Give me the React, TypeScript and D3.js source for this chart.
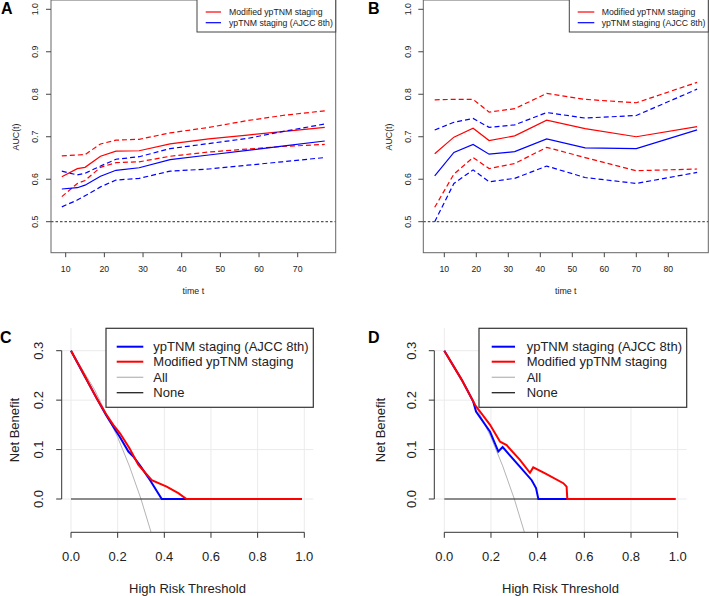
import React from 'react';
import * as d3 from 'd3';

const FONT = '"Liberation Sans", Arial, Helvetica, sans-serif';

// ---- panel A: time-dependent AUC
const timesA = [9, 13, 15, 19, 23, 29, 37, 47, 57, 66, 77];
const modA = [0.606, 0.625, 0.628, 0.654, 0.666, 0.667, 0.683, 0.695, 0.704, 0.712, 0.722];
const modUpA = [0.655, 0.657, 0.658, 0.683, 0.692, 0.694, 0.709, 0.722, 0.738, 0.75, 0.761];
const modLoA = [0.559, 0.59, 0.597, 0.628, 0.639, 0.641, 0.654, 0.664, 0.671, 0.677, 0.682];
const ajccA = [0.577, 0.58, 0.586, 0.607, 0.621, 0.627, 0.646, 0.657, 0.668, 0.678, 0.69];
const ajccUpA = [0.619, 0.61, 0.614, 0.631, 0.647, 0.653, 0.672, 0.684, 0.696, 0.712, 0.73];
const ajccLoA = [0.535, 0.551, 0.561, 0.582, 0.598, 0.602, 0.619, 0.624, 0.633, 0.641, 0.651];
const xTicksA = [10, 20, 30, 40, 50, 60, 70];

// ---- panel B
const timesB = [7, 13, 19, 24, 32, 42, 54, 70, 89];
const modB = [0.66, 0.699, 0.72, 0.691, 0.702, 0.739, 0.719, 0.7, 0.724];
const modUpB = [0.787, 0.788, 0.788, 0.758, 0.766, 0.802, 0.788, 0.78, 0.828];
const modLoB = [0.534, 0.612, 0.651, 0.625, 0.637, 0.675, 0.651, 0.62, 0.624];
const ajccB = [0.608, 0.663, 0.682, 0.659, 0.665, 0.695, 0.674, 0.672, 0.716];
const ajccUpB = [0.716, 0.734, 0.743, 0.722, 0.728, 0.757, 0.744, 0.75, 0.812];
const ajccLoB = [0.5, 0.59, 0.622, 0.594, 0.602, 0.631, 0.604, 0.59, 0.616];
const xTicksB = [10, 20, 30, 40, 50, 60, 70, 80];

const aucTicks = [0.5, 0.6, 0.7, 0.8, 0.9, 1.0];

// ---- panel C: decision curves
const thrC_ajcc = [0, 0.05, 0.11, 0.15, 0.18, 0.21, 0.246, 0.267, 0.3, 0.339, 0.389, 0.99];
const nbC_ajcc = [0.3, 0.256, 0.204, 0.17, 0.147, 0.125, 0.096, 0.086, 0.065, 0.038, 0, 0];
const thrC_mod = [0, 0.05, 0.11, 0.15, 0.181, 0.21, 0.25, 0.289, 0.346, 0.41, 0.46, 0.495, 0.99];
const nbC_mod = [0.3, 0.257, 0.204, 0.172, 0.15, 0.133, 0.103, 0.069, 0.038, 0.025, 0.012, 0, 0];

// ---- panel D
const thrD_ajcc = [0, 0.075, 0.124, 0.136, 0.196, 0.2315, 0.25, 0.3245, 0.3745, 0.393, 0.403, 0.99];
const nbD_ajcc = [0.3, 0.241, 0.197, 0.177, 0.136, 0.096, 0.105, 0.065, 0.038, 0.022, 0, 0];
const thrD_mod = [0, 0.075, 0.132, 0.196, 0.239, 0.267, 0.324, 0.367, 0.381, 0.432, 0.51, 0.524, 0.527, 0.99];
const nbD_mod = [0.3, 0.241, 0.19, 0.15, 0.116, 0.109, 0.079, 0.053, 0.064, 0.052, 0.032, 0.025, 0, 0];

// reference curves (treat all / treat none), same in C and D
const thrAll = [0, 0.1, 0.2, 0.25, 0.3, 0.343];
const nbAll = [0.3, 0.222, 0.125, 0.067, 0, -0.067];
const thrNone = [0, 0.99];
const nbNone = [0, 0];

const dcaXTicks = [0, 0.2, 0.4, 0.6, 0.8, 1.0];
const dcaYTicks = [0, 0.1, 0.2, 0.3];

const aucLegend = ['Modified ypTNM staging', 'ypTNM staging (AJCC 8th)'];
const dcaLegend = ['ypTNM staging (AJCC 8th)', 'Modified ypTNM staging', 'All', 'None'];

const yAuc = d3.scaleLinear().domain([0.5, 1.0]).range([221.7, 9.3]);
const yDca = d3.scaleLinear().domain([0, 0.3]).range([499, 350.7]);

function path(xs: number[], ys: number[], sx: any, sy: any) {
  const line = d3.line<number>().x((d, i) => sx(xs[i])).y(d => sy(d));
  return line(ys) || '';
}

function AucPanel({ letter, letterX, times, series, xTicks, xScale, box, legend, tickLabelX, titleX }: any) {
  const [l, r] = box;
  const top = 0, bottom = 252.7;
  const mid = (l + r) / 2;
  const curves = [
    { v: series[0], c: '#ff0000', d: null },
    { v: series[1], c: '#ff0000', d: '5,3' },
    { v: series[2], c: '#ff0000', d: '5,3' },
    { v: series[3], c: '#0000ff', d: null },
    { v: series[4], c: '#0000ff', d: '5,3' },
    { v: series[5], c: '#0000ff', d: '5,3' },
  ];
  return (
    <g fontFamily={FONT}>
      <text x={letterX} y={14} fontSize={16} fontWeight="bold">{letter}</text>
      <line x1={l} x2={r} y1={yAuc(0.5)} y2={yAuc(0.5)} stroke="#555" strokeWidth={1.3} strokeDasharray="2.5,2" />
      {curves.map((cv, i) => (
        <path key={i} d={path(times, cv.v, xScale, yAuc)} fill="none" stroke={cv.c}
          strokeWidth={1.2} strokeDasharray={cv.d || undefined} />
      ))}
      <rect x={l} y={top} width={r - l} height={bottom - top} fill="none" stroke="#666" strokeWidth={1} />
      {xTicks.map((t: number) => (
        <g key={t}>
          <line x1={xScale(t)} x2={xScale(t)} y1={bottom} y2={bottom + 4.5} stroke="#444" />
          <text x={xScale(t)} y={271.7} fontSize={8.7} textAnchor="middle" fill="#222">{t}</text>
        </g>
      ))}
      {aucTicks.map(t => (
        <g key={t}>
          <line x1={l - 5} x2={l} y1={yAuc(t)} y2={yAuc(t)} stroke="#444" />
          <text transform={`translate(${tickLabelX},${yAuc(t)}) rotate(-90)`} dy="0.35em" fontSize={8.7}
            textAnchor="middle" fill="#222">{t.toFixed(1)}</text>
        </g>
      ))}
      <text transform={`translate(${titleX},137) rotate(-90)`} dy="0.35em" fontSize={8.8} textAnchor="middle" fill="#222">AUC(t)</text>
      <text x={mid} y={294} fontSize={8.8} textAnchor="middle" fill="#222">time t</text>
      <rect x={legend[0]} y={-1} width={r - legend[0]} height={33} fill="#fff" stroke="#444" strokeWidth={1} />
      {aucLegend.map((name, i) => (
        <g key={name}>
          <line x1={legend[1]} x2={legend[2]} y1={12 + i * 10.7} y2={12 + i * 10.7}
            stroke={i === 0 ? '#ff0000' : '#0000ff'} strokeWidth={1.2} />
          <text x={legend[3]} y={12 + i * 10.7} dy="0.35em" fontSize={8.7} fill="#222">{name}</text>
        </g>
      ))}
    </g>
  );
}

function DcaPanel({ letter, letterX, xScale, region, ajcc, mod, legend, tickLabelX, titleX }: any) {
  const [l, r] = region;
  const top = 328, bottom = 532.3;
  const mid = (l + r) / 2;
  const legColors = ['#0000ff', '#ff0000', '#bbbbbb', '#222222'];
  const legWidths = [2, 2, 1.3, 1.3];
  return (
    <g fontFamily={FONT}>
      <text x={letterX} y={343} fontSize={16} fontWeight="bold">{letter}</text>
      {dcaXTicks.map(t => (
        <line key={'gx' + t} x1={xScale(t)} x2={xScale(t)} y1={top} y2={bottom} stroke="#ebebeb" />
      ))}
      {dcaYTicks.map(t => (
        <line key={'gy' + t} x1={l} x2={r} y1={yDca(t)} y2={yDca(t)} stroke="#ebebeb" />
      ))}
      <path d={path(thrAll, nbAll, xScale, yDca)} fill="none" stroke="#b4b4b4" strokeWidth={1} />
      <path d={path(thrNone, nbNone, xScale, yDca)} fill="none" stroke="#222" strokeWidth={1.2} />
      <path d={path(ajcc[0], ajcc[1], xScale, yDca)} fill="none" stroke="#0000ff" strokeWidth={2} />
      <path d={path(mod[0], mod[1], xScale, yDca)} fill="none" stroke="#ff0000" strokeWidth={2} />
      <line x1={xScale(0)} x2={xScale(1)} y1={bottom} y2={bottom} stroke="#333" />
      {dcaXTicks.map(t => (
        <g key={'x' + t}>
          <line x1={xScale(t)} x2={xScale(t)} y1={bottom} y2={bottom + 5.5} stroke="#333" />
          <text x={xScale(t)} y={560.7} fontSize={13} textAnchor="middle" fill="#222">{t.toFixed(1)}</text>
        </g>
      ))}
      <line x1={l} x2={l} y1={yDca(0)} y2={yDca(0.3)} stroke="#333" />
      {dcaYTicks.map(t => (
        <g key={'y' + t}>
          <line x1={l - 5.5} x2={l} y1={yDca(t)} y2={yDca(t)} stroke="#333" />
          <text transform={`translate(${tickLabelX},${yDca(t)}) rotate(-90)`} dy="0.35em" fontSize={13}
            textAnchor="middle" fill="#222">{t.toFixed(1)}</text>
        </g>
      ))}
      <text transform={`translate(${titleX},430) rotate(-90)`} dy="0.35em" fontSize={13} textAnchor="middle" fill="#222">Net Benefit</text>
      <text x={mid} y={592.7} fontSize={13} textAnchor="middle" fill="#222">High Risk Threshold</text>
      <rect x={legend[0]} y={328.3} width={r - legend[0]} height={79} fill="#fff" stroke="#333" strokeWidth={1.2} />
      {dcaLegend.map((name, i) => {
        const yy = [346.7, 361.7, 377.3, 392.7][i];
        return (
          <g key={name}>
            <line x1={legend[1]} x2={legend[2]} y1={yy} y2={yy} stroke={legColors[i]} strokeWidth={legWidths[i]} />
            <text x={legend[3]} y={yy} dy="0.35em" fontSize={13} fill="#222">{name}</text>
          </g>
        );
      })}
    </g>
  );
}

export default function App() {
  const xA = d3.scaleLinear().domain([10, 70]).range([65.7, 297.7]);
  const xB = d3.scaleLinear().domain([10, 80]).range([444.3, 668.3]);
  const xC = d3.scaleLinear().domain([0, 1]).range([71, 304.3]);
  const xD = d3.scaleLinear().domain([0, 1]).range([444.3, 677.7]);
  return (
    <svg width={709} height={596} style={{ position: 'absolute', left: 0, top: 0, background: '#fff' }}>
      <rect width={709} height={596} fill="#fff" />
      <AucPanel letter="A" letterX={1} times={timesA} xScale={xA} xTicks={xTicksA}
        series={[modA, modUpA, modLoA, ajccA, ajccUpA, ajccLoA]} box={[51, 335.7]}
        legend={[197, 205.7, 221, 229]} tickLabelX={35} titleX={15.5} />
      <AucPanel letter="B" letterX={368} times={timesB} xScale={xB} xTicks={xTicksB}
        series={[modB, modUpB, modLoB, ajccB, ajccUpB, ajccLoB]} box={[423.3, 708.3]}
        legend={[569.3, 577.7, 594.3, 601.7]} tickLabelX={408.3} titleX={389.3} />
      <DcaPanel letter="C" letterX={0} xScale={xC} region={[61.7, 313.3]}
        ajcc={[thrC_ajcc, nbC_ajcc]} mod={[thrC_mod, nbC_mod]}
        legend={[106, 116.7, 143.3, 153.3]} tickLabelX={38.3} titleX={14} />
      <DcaPanel letter="D" letterX={368} xScale={xD} region={[434.3, 686.7]}
        ajcc={[thrD_ajcc, nbD_ajcc]} mod={[thrD_mod, nbD_mod]}
        legend={[479, 491.7, 515, 526.7]} tickLabelX={411.7} titleX={380} />
    </svg>
  );
}
